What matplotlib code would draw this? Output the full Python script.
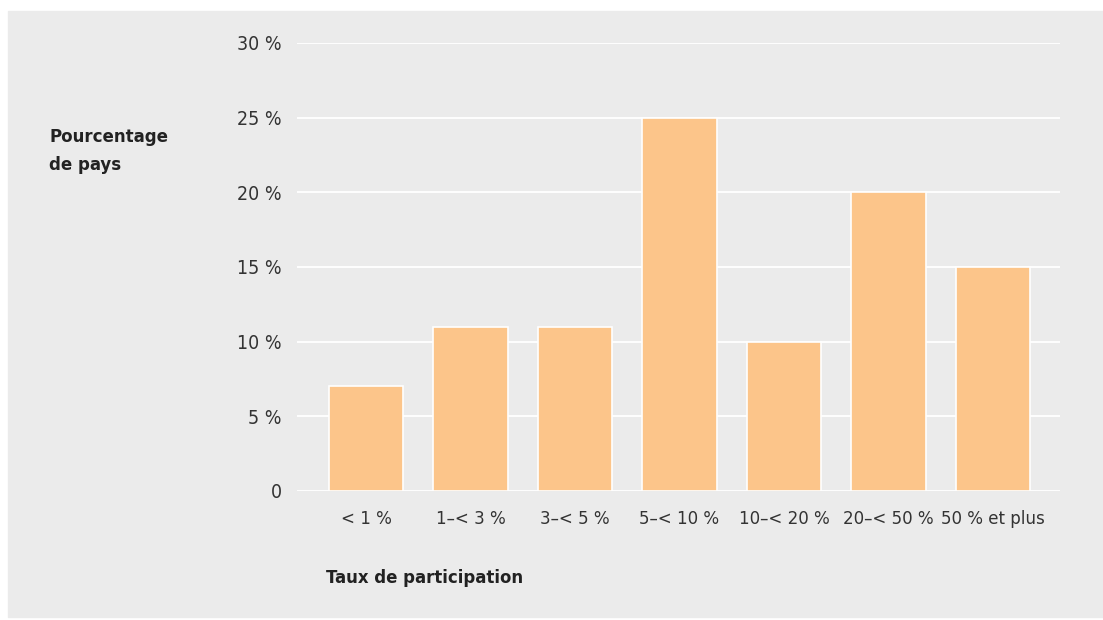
import matplotlib.pyplot as plt
import numpy as np

categories = ['< 1 %', '1–< 3 %', '3–< 5 %', '5–< 10 %', '10–< 20 %', '20–< 50 %', '50 % et plus']
values = [7, 11, 11, 25, 10, 20, 15]
yticks = [0, 5, 10, 15, 20, 25, 30]
ylabels = ['0', '5 %', '10 %', '15 %', '20 %', '25 %', '30 %']

plt.rcParams['font.family'] = ['Liberation Sans Narrow', 'DejaVu Sans']
plt.rcParams['font.stretch'] = 'condensed'
txt = '#333333'
bg = '#ebebeb'

fig = plt.figure(figsize=(11.03, 6.2), dpi=100)
fig.patch.set_facecolor('white')
fig.patches.append(plt.Rectangle((8/1103, 3/620), 1095/1103, 606/620,
                                 transform=fig.transFigure, color=bg, zorder=-10))

ax = fig.add_axes([297/1103, (620-491)/620, (1060-297)/1103, 448/620])
ax.set_facecolor(bg)
x = np.arange(len(categories))
ax.bar(x, values, width=0.71, color='#fcc58a', edgecolor='white', linewidth=1.2, zorder=3)
ax.set_xlim(-0.66, 6.64)
ax.set_ylim(0, 30)
ax.set_yticks(yticks)
ax.set_yticklabels(ylabels)
ax.set_xticks(x)
ax.set_xticklabels(categories)
ax.grid(axis='y', color='white', linewidth=1.3, zorder=1)
ax.set_axisbelow(True)
ax.tick_params(axis='both', length=0, colors=txt)
ax.tick_params(axis='y', pad=11, labelsize=14)
ax.tick_params(axis='x', pad=14, labelsize=13.3)
for s in ax.spines.values():
    s.set_visible(False)

fig.text(49/1103, 1 - 151/620, 'Pourcentage\nde pays', fontsize=13.3, fontweight='bold',
         color='#222222', va='center', ha='left', linespacing=1.65)
fig.text(326/1103, 1 - 578/620, 'Taux de participation', fontsize=13.2, fontweight='bold',
         color='#222222', va='center', ha='left')

fig.savefig('out.png', dpi=100, facecolor='white')
